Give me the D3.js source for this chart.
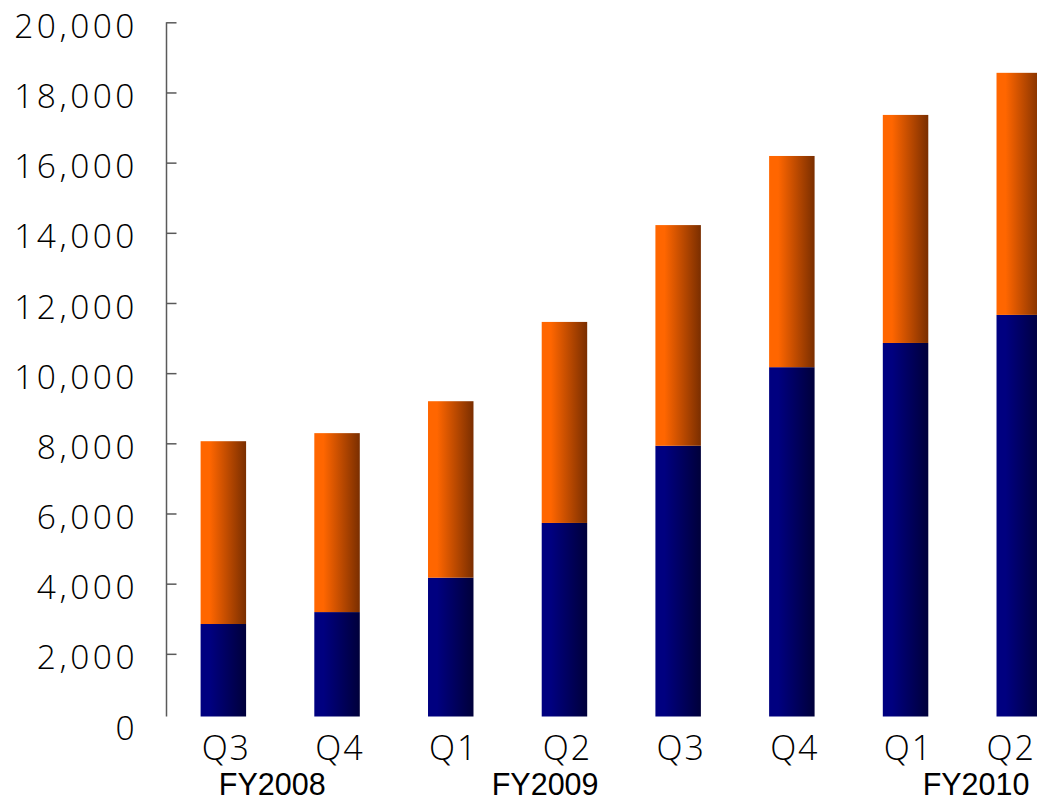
<!DOCTYPE html>
<html>
<head>
<meta charset="utf-8">
<script src="https://cdn.jsdelivr.net/npm/d3@7"></script>
<style>
  html, body { margin: 0; padding: 0; background: #fff; overflow: hidden; }
  svg { display: block; }
</style>
</head>
<body>
<svg id="chart" width="1037" height="801"></svg>
<script>
// Quarterly figures, two stacked components per quarter
const quarters = ["Q3", "Q4", "Q1", "Q2", "Q3", "Q4", "Q1", "Q2"];
const fiscalYears = ["FY2008", "FY2008", "FY2009", "FY2009", "FY2009", "FY2009", "FY2010", "FY2010"];
const lowerValues = [2850, 3190, 4170, 5730, 7930, 10170, 10860, 11660];
const upperValues = [5210, 5100, 5030, 5730, 6290, 6020, 6500, 6900];
const yTicks = [0, 2000, 4000, 6000, 8000, 10000, 12000, 14000, 16000, 18000, 20000];
const yearLabels = ["FY2008", "FY2009", "FY2010"];

const width = 1037;
const svg = d3.select("#chart");

const axisX = 166.5;
const floorY = 716.5;
const keys = quarters.map((q, i) => i);

const x = d3.scaleBand()
  .domain(keys)
  .range([axisX, axisX + 8 * 113.7])
  .paddingInner(0.6)
  .paddingOuter(0.3);

const y = d3.scaleLinear()
  .domain([0, 20000])
  .range([724, 22.3]);

// Horizontal shading on each bar: flat colour on the left, darkening to the right
const defs = svg.append("defs");
function shade(id, base, dark) {
  const g = defs.append("linearGradient").attr("id", id)
    .attr("x1", "0").attr("y1", "0").attr("x2", "1").attr("y2", "0");
  g.append("stop").attr("offset", "0").attr("stop-color", base);
  g.append("stop").attr("offset", "0.2").attr("stop-color", base);
  g.append("stop").attr("offset", "1").attr("stop-color", dark);
}
shade("gradNavy", "#000080", "#00003a");
shade("gradOrange", "#ff6600", "#7a2e00");

defs.append("clipPath").attr("id", "plotClip")
  .append("rect").attr("x", axisX).attr("y", 0)
  .attr("width", width - axisX).attr("height", floorY);

const rows = keys.map(i => ({ i, lower: lowerValues[i], upper: upperValues[i] }));
const stack = d3.stack().keys(["lower", "upper"]);
const series = stack(rows);
const fills = { lower: "url(#gradNavy)", upper: "url(#gradOrange)" };

const plot = svg.append("g").attr("clip-path", "url(#plotClip)");
plot.selectAll("g.series")
  .data(series)
  .join("g")
  .attr("class", "series")
  .attr("fill", s => fills[s.key])
  .selectAll("rect")
  .data(s => s)
  .join("rect")
  .attr("x", d => x(d.data.i))
  .attr("width", x.bandwidth())
  .attr("y", d => y(d[1]))
  .attr("height", d => y(d[0]) - y(d[1]));

// Value axis, ticks pointing into the plot
const yAxis = d3.axisLeft(y)
  .tickValues(yTicks)
  .tickSizeInner(-10)
  .tickSizeOuter(0)
  .tickPadding(28.5)
  .tickFormat(d3.format(","));

const gy = svg.append("g")
  .attr("transform", `translate(${axisX},0)`)
  .call(yAxis);
gy.select(".domain").remove();
gy.selectAll(".tick line").attr("stroke", "#5a5a5a").attr("stroke-width", 1.5)
  .filter(d => d === 0).remove();
gy.selectAll(".tick text")
  .attr("font-family", "'Open Sans', sans-serif")
  .attr("font-weight", 300)
  .attr("font-size", 33.5)
  .attr("letter-spacing", 3.5)
  .attr("fill", "#000")
  .attr("dy", "0.45em");
gy.append("line")
  .attr("x1", 0).attr("x2", 0)
  .attr("y1", y(20000)).attr("y2", floorY)
  .attr("stroke", "#5a5a5a").attr("stroke-width", 1.5);

// Quarter labels, kept inside the right edge
svg.append("g").selectAll("text")
  .data(keys)
  .join("text")
  .attr("y", 760)
  .attr("text-anchor", "middle")
  .attr("font-family", "'Open Sans', sans-serif")
  .attr("font-weight", 300)
  .attr("font-size", 34)
  .attr("letter-spacing", 2)
  .attr("fill", "#000")
  .text(i => quarters[i])
  .attr("x", function (i) {
    const half = this.getComputedTextLength() / 2;
    return Math.min(x(i) + x.bandwidth() / 2 + 3, width - half - 1);
  });

// Fiscal year labels, placed under their quarters
const step = x.step();
const yearOffsets = { FY2008: 0.43, FY2009: 2.83, FY2010: 6.62 };
svg.append("g").selectAll("text")
  .data(yearLabels)
  .join("text")
  .attr("x", fy => x(0) + x.bandwidth() / 2 + yearOffsets[fy] * step)
  .attr("y", 795)
  .attr("text-anchor", "middle")
  .attr("font-family", "'Liberation Sans', Arial, sans-serif")
  .attr("font-size", 30.5)
  .attr("fill", "#000")
  .text(fy => fy);
</script>
</body>
</html>
